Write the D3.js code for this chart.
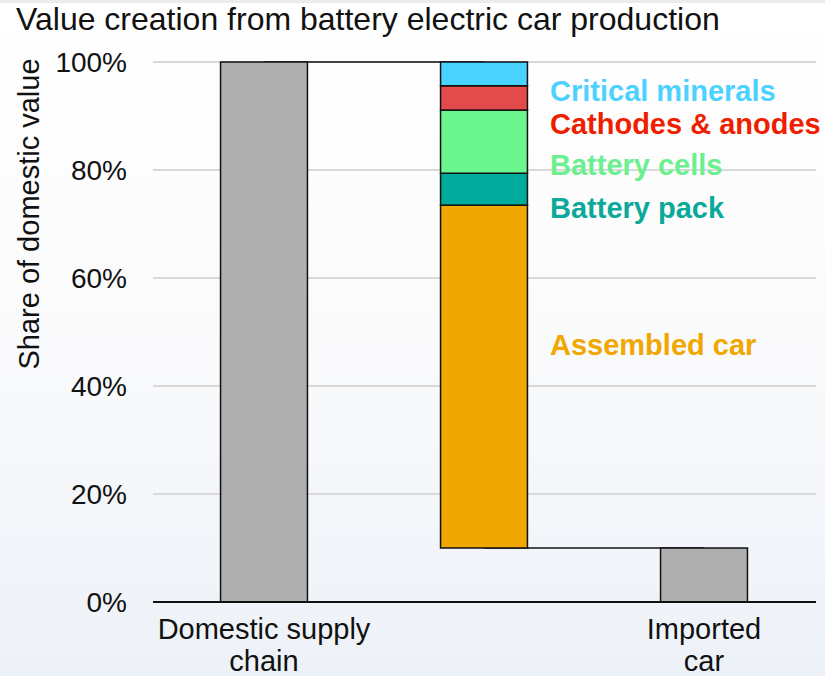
<!DOCTYPE html>
<html>
<head>
<meta charset="utf-8">
<script src="https://cdn.jsdelivr.net/npm/d3@7"></script>
<style>
  body { margin: 0; padding: 0; }
  svg { display: block; font-family: "Liberation Sans", Arial, sans-serif; }
</style>
</head>
<body>
<div class="chart"></div>
<script>
// data
var categories = ["Domestic supply chain", "Middle", "Imported car"];
var categoryLines = [["Domestic supply", "chain"], [], ["Imported", "car"]];
var totals = [100, null, 10];              // gray total bars
var stepStart = 10;                        // middle bar starts at imported share
var stepNames = ["Assembled car", "Battery pack", "Battery cells", "Cathodes & anodes", "Critical minerals"];
var stepValues = [63.5, 5.9, 11.7, 4.5, 4.4];
var stepColors = ["#f0a800", "#00ab9c", "#6af58f", "#e34a4a", "#49d2ff"];
var labelColors = ["#f0a800", "#0aa99a", "#6cef8f", "#f01e00", "#4dd2ff"];
var labelAt = [47.6, 73, 81, 88.5, 94.6];  // where each label sits, in % units
var yTicks = [0, 20, 40, 60, 80, 100];

var svgWidth = 825;
var svgHeight = 676;

var svg = d3.select(".chart")
  .append("svg")
    .attr("width", svgWidth)
    .attr("height", svgHeight);

// background gradient
var defs = svg.append("defs");
var grad = defs.append("linearGradient")
    .attr("id", "bg")
    .attr("x1", 0).attr("y1", 0).attr("x2", 0).attr("y2", 1);
grad.append("stop").attr("offset", "0%").attr("stop-color", "#ffffff");
grad.append("stop").attr("offset", "45%").attr("stop-color", "#fbfbfc");
grad.append("stop").attr("offset", "100%").attr("stop-color", "#edf2f8");

svg.append("rect")
    .attr("width", svgWidth)
    .attr("height", svgHeight)
    .attr("fill", "url(#bg)");
svg.append("rect")
    .attr("width", svgWidth)
    .attr("height", 3)
    .attr("fill", "#ececec");

var x = d3.scaleBand()
    .domain(categories)
    .range([154, 814])
    .paddingInner(0.605)
    .paddingOuter(0.3025);

var y = d3.scaleLinear()
    .domain([0, 100])
    .range([602, 62]);

// title
svg.append("text")
    .attr("x", 16)
    .attr("y", 30)
    .attr("font-size", 32)
    .attr("fill", "#111")
    .text("Value creation from battery electric car production");

// gridlines
svg.append("g")
  .selectAll("line")
  .data(yTicks.filter(function(d) { return d > 0; }))
  .enter().append("line")
    .attr("x1", 153)
    .attr("x2", 816)
    .attr("y1", function(d) { return y(d); })
    .attr("y2", function(d) { return y(d); })
    .attr("stroke", "#d9d9d9")
    .attr("stroke-width", 2);

// y tick labels
svg.append("g")
  .selectAll("text")
  .data(yTicks)
  .enter().append("text")
    .attr("x", 127)
    .attr("y", function(d) { return y(d) + 10; })
    .attr("text-anchor", "end")
    .attr("font-size", 28)
    .attr("fill", "#111")
    .text(function(d) { return d + "%"; });

// y axis title
svg.append("text")
    .attr("transform", "translate(39," + 214 + ") rotate(-90)")
    .attr("text-anchor", "middle")
    .attr("font-size", 29)
    .attr("fill", "#111")
    .text("Share of domestic value");

// connectors (center to center)
var cx = function(c) { return x(c) + x.bandwidth() / 2; };
svg.append("line")
    .attr("x1", cx(categories[0])).attr("x2", cx(categories[1]))
    .attr("y1", y(100)).attr("y2", y(100))
    .attr("stroke", "#111").attr("stroke-width", 1.5);
svg.append("line")
    .attr("x1", cx(categories[1])).attr("x2", cx(categories[2]))
    .attr("y1", y(stepStart)).attr("y2", y(stepStart))
    .attr("stroke", "#111").attr("stroke-width", 1.5);

// total bars
svg.append("g")
  .selectAll("rect")
  .data([0, 2])
  .enter().append("rect")
    .attr("x", function(i) { return x(categories[i]); })
    .attr("width", x.bandwidth())
    .attr("y", function(i) { return y(totals[i]); })
    .attr("height", function(i) { return y(0) - y(totals[i]); })
    .attr("fill", "#afafaf")
    .attr("stroke", "#111")
    .attr("stroke-width", 1.5);

// stacked step bar
var segs = [];
var acc = stepStart;
stepValues.forEach(function(v, i) {
  segs.push({ name: stepNames[i], y0: acc, y1: acc + v, color: stepColors[i], i: i });
  acc += v;
});

svg.append("g")
  .selectAll("rect")
  .data(segs)
  .enter().append("rect")
    .attr("x", x(categories[1]))
    .attr("width", x.bandwidth())
    .attr("y", function(d) { return y(d.y1); })
    .attr("height", function(d) { return y(d.y0) - y(d.y1); })
    .attr("fill", function(d) { return d.color; })
    .attr("stroke", "#111")
    .attr("stroke-width", 1.5);

// segment labels
svg.append("g")
  .selectAll("text")
  .data(segs)
  .enter().append("text")
    .attr("x", 550)
    .attr("y", function(d) { return y(labelAt[d.i]) + 10; })
    .attr("font-size", 29)
    .attr("font-weight", "bold")
    .attr("fill", function(d) { return labelColors[d.i]; })
    .text(function(d) { return d.name; });

// x axis line
svg.append("line")
    .attr("x1", 153).attr("x2", 816)
    .attr("y1", y(0)).attr("y2", y(0))
    .attr("stroke", "#111").attr("stroke-width", 2);

// category labels
var catG = svg.append("g");
categories.forEach(function(c, i) {
  categoryLines[i].forEach(function(line, j) {
    catG.append("text")
      .attr("x", cx(c))
      .attr("y", 639 + j * 32)
      .attr("text-anchor", "middle")
      .attr("font-size", 29)
      .attr("fill", "#111")
      .text(line);
  });
});
</script>
</body>
</html>
